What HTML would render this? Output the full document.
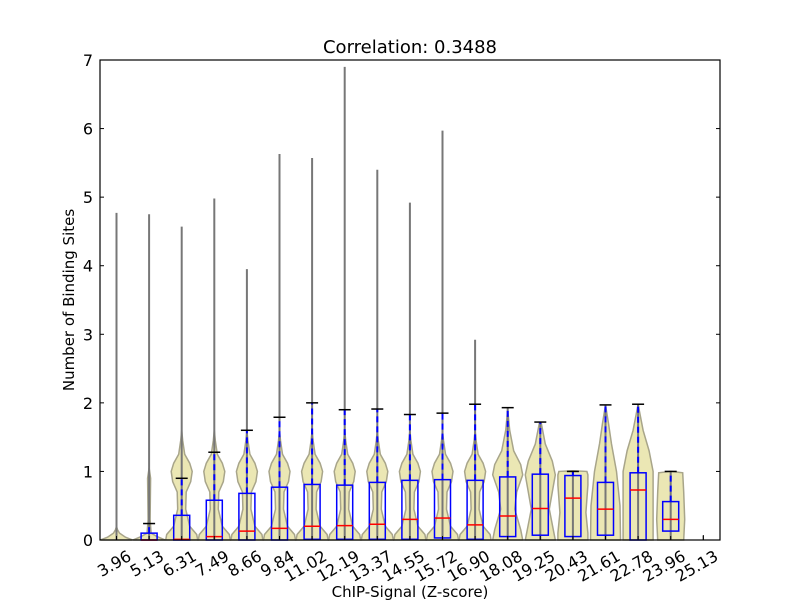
<!DOCTYPE html>
<html><head><meta charset="utf-8"><style>
body{margin:0;background:#fff;}
svg text{font-family:"DejaVu Sans","Liberation Sans",sans-serif;fill:#000;}
</style></head><body>
<svg id="s" width="800" height="600" xmlns="http://www.w3.org/2000/svg"></svg>
<script>
const s=document.getElementById('s');
const Y=v=>540-68.571*v, X=i=>116.5+32.6*i;
let h='<rect width="800" height="600" fill="#fff"/>';
const labels=["3.96","5.13","6.31","7.49","8.66","9.84","11.02","12.19","13.37","14.55","15.72","16.90","18.08","19.25","20.43","21.61","22.78","23.96","25.13"];
const A=[[0,16],[0.08,15],[0.2,8],[0.45,4],[0.7,4.5],[0.85,9],[1.0,10.5],[1.12,8],[1.25,3],[1.45,1],[1.6,0]];
const prof=[
 [[0,16],[0.04,9],[0.1,3],[0.15,1],[0.2,0]],
 [[0,16],[0.05,8],[0.1,2],[0.3,1],[0.9,1.5],[1.05,0]],
 A,A,A,A,A,A,A,A,A,A,
 [[0,15],[0.15,13],[0.45,7],[0.7,9],[0.95,15],[1.1,13],[1.3,6],[1.6,2],[1.9,0]],
 [[0,15],[0.15,13],[0.45,9],[0.7,12],[0.95,15],[1.15,12],[1.4,5],[1.7,1]],
 [[0,15],[0.1,15],[0.4,13],[0.8,15],[0.95,15],[1.0,14],[1.01,0]],
 [[0,15],[0.5,14.5],[1.0,11],[1.4,6],[1.7,3],[1.97,0]],
 [[0,15],[0.6,15],[1.0,15],[1.3,11],[1.6,5],[1.98,0]],
 [[0,13],[0.3,14],[0.7,13],[0.98,12],[1.0,0]]
];
const d=[[4.77,null,null,null,null],[4.75,0.24,0.1,0,0],[4.57,0.9,0.36,0.01,0],[4.98,1.28,0.58,0.05,0],[3.95,1.6,0.68,0.13,0],
[5.63,1.79,0.77,0.17,0],[5.57,2.0,0.81,0.2,0.01],[6.9,1.9,0.8,0.21,0.01],[5.4,1.91,0.84,0.23,0.01],[4.92,1.83,0.87,0.3,0.01],
[5.97,1.85,0.88,0.32,0.03],[2.92,1.98,0.87,0.22,0.01],[null,1.93,0.92,0.35,0.05],[null,1.72,0.96,0.46,0.07],[null,1.0,0.94,0.61,0.05],
[null,1.97,0.84,0.45,0.07],[null,1.98,0.98,0.73,0.0],[null,1.0,0.56,0.3,0.13]];
for(let i=0;i<18;i++){
 const c=X(i),p=prof[i];
 let pts=p.map(q=>(c+q[1])+','+Y(q[0]));
 let pts2=p.slice().reverse().map(q=>(c-q[1])+','+Y(q[0]));
 h+=`<polygon points="${pts.concat(pts2).join(' ')}" fill="#ebe7b4" stroke="#a8a58a" stroke-width="1.5"/>`;
 const [mx,cap,q3,med,q1]=d[i];
 const top=mx||cap;
 h+=`<line x1="${c}" y1="540" x2="${c}" y2="${Y(top)}" stroke="#777" stroke-width="2"/>`;
 if(cap!=null){
  h+=`<line x1="${c}" y1="${Y(q3)}" x2="${c}" y2="${Y(cap)}" stroke="#00f" stroke-width="2" stroke-dasharray="6,4"/>`;
  h+=`<line x1="${c-6}" y1="${Y(cap)}" x2="${c+6}" y2="${Y(cap)}" stroke="#000" stroke-width="1.5"/>`;
  h+=`<rect x="${c-8}" y="${Y(q3)}" width="16" height="${Y(q1)-Y(q3)}" fill="none" stroke="#00f" stroke-width="1.5"/>`;
  h+=`<line x1="${c-8}" y1="${Y(med)}" x2="${c+8}" y2="${Y(med)}" stroke="#f00" stroke-width="1.5"/>`;
 }
}
h+=`<line x1="${X(18)}" y1="540" x2="${X(18)}" y2="535" stroke="#000"/>`;
h+='<rect x="100" y="60" width="620" height="480" fill="none" stroke="#000" stroke-width="1.2"/>';
for(let v=0;v<=7;v++){const y=Y(v);
 h+=`<line x1="100" y1="${y}" x2="104" y2="${y}" stroke="#000"/><line x1="716" y1="${y}" x2="720" y2="${y}" stroke="#000"/>`;
 h+=`<text x="93" y="${y+6}" font-size="16" text-anchor="end">${v}</text>`;}
for(let i=0;i<19;i++){const x=X(i);
 h+=`<line x1="${x}" y1="540" x2="${x}" y2="536" stroke="#000"/>`;
 h+=`<text transform="translate(${x+10},${549}) rotate(-30)" font-size="16" text-anchor="end" dominant-baseline="hanging">${labels[i]}</text>`;}
h+='<text x="410" y="53" font-size="18" text-anchor="middle">Correlation: 0.3488</text>';
h+='<text x="410" y="597" font-size="15" text-anchor="middle">ChIP-Signal (Z-score)</text>';
h+='<text transform="translate(74,300) rotate(-90)" font-size="15" text-anchor="middle">Number of Binding Sites</text>';
s.innerHTML=h;
</script>
</body></html>
